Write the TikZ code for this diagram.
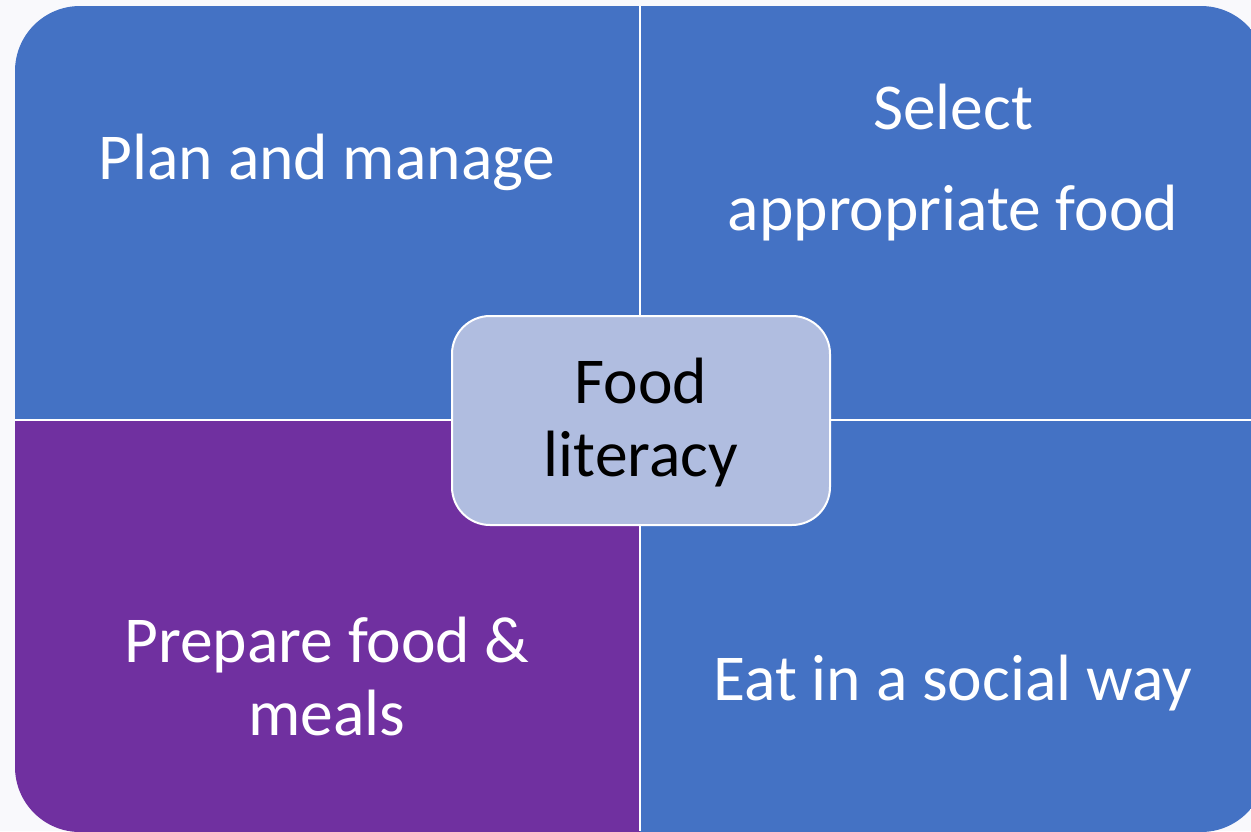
\documentclass[tikz,border=0pt]{standalone}
\usepackage{fontspec}
\setmainfont{Carlito}
\definecolor{qblue}{HTML}{4472C4}
\definecolor{qpurple}{HTML}{7030A0}
\definecolor{cbox}{HTML}{B0BDE0}
\definecolor{bgcol}{HTML}{F9F9FC}
\tikzset{
  qtext/.style={anchor=base, inner sep=0pt, align=center, text=white,
    font=\fontsize{65.5}{73}\selectfont},
  ctext/.style={anchor=base, inner sep=0pt, align=center, text=black,
    font=\fontsize{65.5}{73}\selectfont},
  centerbox/.style={draw=white, line width=2pt, fill=cbox, rounded corners=38pt,
    minimum width=378pt, minimum height=209pt, inner sep=0pt},
  divider/.style={draw=white, line width=2.5pt}
}
\begin{document}
\begin{tikzpicture}[x=1pt,y=-1pt]
\useasboundingbox (0,0) rectangle (1251,831);
\fill[bgcol] (0,0) rectangle (1251,831);
\begin{scope}
  \clip[rounded corners=65pt] (15,6) rectangle (1266,832);
  \fill[qblue] (15,6) rectangle (640,420);
  \fill[qblue] (640,6) rectangle (1266,420);
  \fill[qpurple] (15,420) rectangle (640,832);
  \fill[qblue] (640,420) rectangle (1266,832);
  \coordinate (vtop) at (640,0);
  \coordinate (vbot) at (640,831);
  \coordinate (hl) at (0,420);
  \coordinate (hr) at (1251,420);
  \draw[divider] (vtop) -- (vbot);
  \draw[divider] (hl) -- (hr);
\end{scope}
\node[qtext] (plan) at (327,179) {Plan and manage};
\node[qtext] (select) at (953,230) {Select\\[28pt]appropriate food};
\node[qtext] (prepare) at (327,735) {Prepare food \&\\meals};
\node[qtext] (eat) at (953,700) {Eat in a social way};
\node[centerbox] (fl) at (641,420.5) {};
\node[ctext] (fltext) at (641,476) {Food\\literacy};
\end{tikzpicture}
\end{document}
